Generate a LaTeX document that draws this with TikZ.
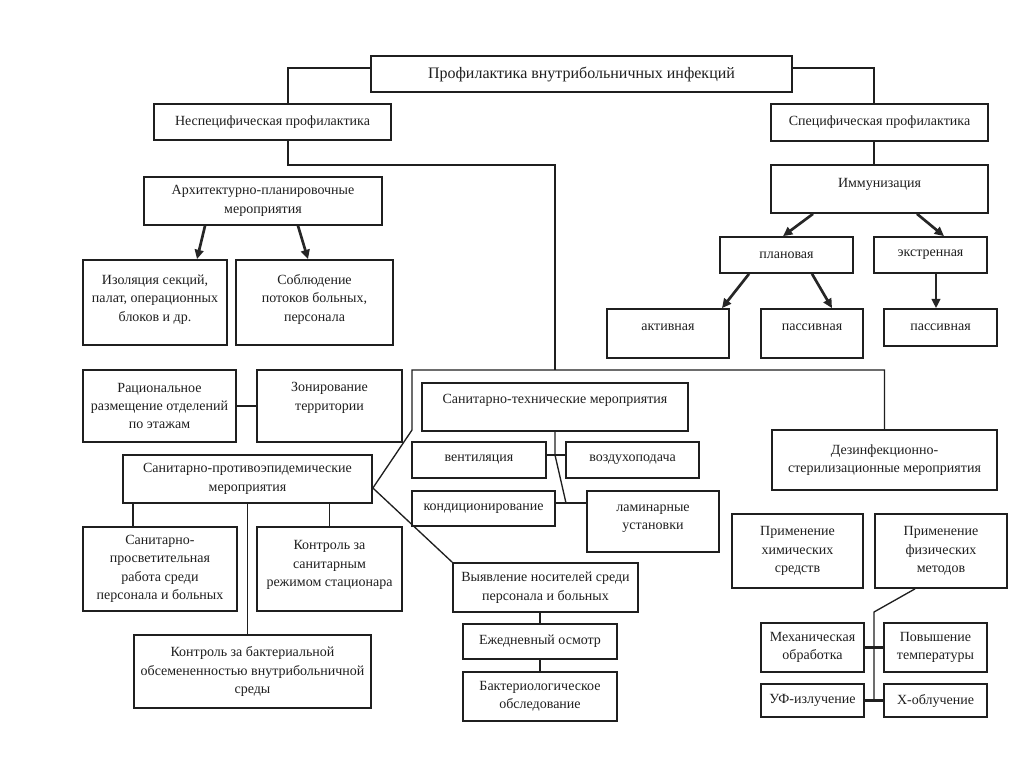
\documentclass[tikz,border=0pt]{standalone}
\usepackage{fontspec}
\setmainfont{Liberation Serif}
\usetikzlibrary{arrows.meta,calc}
\definecolor{ink}{gray}{0.12}

\begin{document}
\begin{tikzpicture}[
  x=0.75pt, y=-0.75pt,
  every node/.style={font=\fontsize{10.5pt}{13.8pt}\selectfont, text=ink},
  box/.style={draw=ink, line width=1.3pt, fill=white, align=center, inner sep=1pt},
  link/.style={draw=ink, line width=1pt},
  pair/.style={draw=ink, line width=1.8pt},
  arr/.style={draw=black!85, line width=2pt, -{Triangle[length=7pt,width=6.5pt]}}
]
  \useasboundingbox[fill=white] (0,0) rectangle (1024,768);

  % top level
  \node[box, minimum width=315.75pt, minimum height=27pt,
        font=\fontsize{12pt}{15pt}\selectfont] (title) at (581.5,74)
       {Профилактика внутрибольничных инфекций};
  \node[box, minimum width=177.75pt, minimum height=27pt] (nespec) at (272.5,122) {Неспецифическая профилактика};
  \node[box, minimum width=162.75pt, minimum height=27.75pt] (spec) at (879.5,122.5) {Специфическая профилактика};

  % immunisation
  \node[box, minimum width=162.75pt, minimum height=36pt] (imm) at (879.5,189) {Иммунизация\\[-4pt]};
  \node[box, minimum width=99.75pt, minimum height=27pt] (plan) at (786.5,255) {плановая};
  \node[box, minimum width=84.75pt, minimum height=27pt] (ekstr) at (930.5,255) {экстренная};
  \node[box, minimum width=91.5pt, minimum height=36.75pt] (akt) at (668,333.5) {активная\\[-4.75pt]};
  \node[box, minimum width=76.5pt, minimum height=36.75pt] (pas1) at (812,333.5) {пассивная\\[-4.75pt]};
  \node[box, minimum width=84.75pt, minimum height=27.75pt] (pas2) at (940.5,327.5) {пассивная};

  % architecture
  \node[box, minimum width=178.5pt, minimum height=36pt] (arch) at (263,201) {Архитектурно-планировочные\\мероприятия};
  \node[box, minimum width=108pt, minimum height=63.75pt] (izol) at (155,302.5) {Изоляция секций,\\палат, операционных\\блоков и  др.\\[-7pt]};
  \node[box, minimum width=117.75pt, minimum height=63.75pt] (sobl) at (314.5,302.5) {Соблюдение\\потоков больных,\\персонала\\[-7pt]};
  \node[box, minimum width=114.75pt, minimum height=54pt] (rac) at (159.5,406) {Рациональное\\размещение отделений\\по этажам};
  \node[box, minimum width=108.75pt, minimum height=54pt] (zon) at (329.5,406) {Зонирование\\территории\\[0.5pt]};

  % sanitary-technical
  \node[box, minimum width=199.5pt, minimum height=36pt] (santech) at (555,407) {Санитарно-технические мероприятия\\[-1pt]};
  \node[box, minimum width=100.5pt, minimum height=27pt] (vent) at (479,460) {вентиляция};
  \node[box, minimum width=99.75pt, minimum height=27pt] (vozd) at (632.5,460) {воздухоподача};
  \node[box, minimum width=107.25pt, minimum height=26.25pt] (kond) at (483.5,508.5) {кондиционирование};
  \node[box, minimum width=99pt, minimum height=45.75pt] (lam) at (653,521.5) {ламинарные\\установки\\[-7pt]};

  % disinfection
  \node[box, minimum width=168.75pt, minimum height=45pt] (dezinf) at (884.5,460) {Дезинфекционно-\\стерилизационные мероприятия};
  \node[box, minimum width=98.25pt, minimum height=55.5pt] (chem) at (797.5,551) {Применение\\химических\\средств};
  \node[box, minimum width=99pt, minimum height=55.5pt] (phys) at (941,551) {Применение\\физических\\методов};
  \node[box, minimum width=77.25pt, minimum height=36.75pt] (mech) at (812.5,647.5) {Механическая\\обработка};
  \node[box, minimum width=77.25pt, minimum height=36.75pt] (pov) at (935.5,647.5) {Повышение\\температуры};
  \node[box, minimum width=77.25pt, minimum height=24.75pt] (uf) at (812.5,700.5) {УФ-излучение};
  \node[box, minimum width=77.25pt, minimum height=24.75pt] (xobl) at (935.5,700.5) {Х-облучение};

  % anti-epidemic
  \node[box, minimum width=186.75pt, minimum height=36pt] (sanep) at (247.5,479) {Санитарно-противоэпидемические\\мероприятия};
  \node[box, minimum width=115.5pt, minimum height=63pt] (prosv) at (160,569) {Санитарно-\\просветительная\\работа среди\\персонала и  больных};
  \node[box, minimum width=108.75pt, minimum height=63pt] (kontr) at (329.5,569) {Контроль за\\санитарным\\режимом стационара\\[-5.5pt]};
  \node[box, minimum width=177.75pt, minimum height=54.75pt] (kbak) at (252.5,671.5) {Контроль за бактериальной\\обсемененностью внутрибольничной\\среды};
  \node[box, minimum width=138.75pt, minimum height=36.75pt] (vyjav) at (545.5,587.5) {Выявление носителей среди\\персонала и  больных};
  \node[box, minimum width=115.5pt, minimum height=26.25pt] (ezhed) at (540,641.5) {Ежедневный осмотр};
  \node[box, minimum width=115.5pt, minimum height=36.75pt] (bakt) at (540,696.5) {Бактериологическое\\обследование};

  % junctions
  \coordinate (hub) at (555,370);
  \coordinate (bend) at (412,430);
  \coordinate (tj) at (555,455);
  \coordinate (kj) at (566,503);
  \coordinate (pj) at (874,612);

  \draw[link] ($(title.west)+(0,-6)$) -| ($(nespec.north)+(15.5,0)$);
  \draw[link] ($(title.east)+(0,-6)$) -| ($(spec.north)+(-5.5,0)$);
  \draw[link] ($(spec.south)+(-5.5,0)$) -- ($(imm.north)+(-5.5,0)$);
  \draw[link] ($(nespec.south)+(15.5,0)$) |- ($(hub)+(0,-205)$) -- (hub);
  \draw[link] ($(sanep.east)+(0,9)$) -- (bend) |- (hub) -| (dezinf.north);
  \draw[link] ($(sanep.east)+(0,9)$) -- (vyjav.north west);
  \draw[link] (santech.south) -- (tj) -- (kj);
  \draw[pair] (vent.east |- tj) -- (vozd.west |- tj);
  \draw[link] (kond.east |- kj) -- (lam.west |- kj);
  \draw[link] (sanep.south -| kbak.west) -- (prosv.north -| kbak.west);
  \draw[link] (sanep.south) -- (sanep.south |- kbak.north);
  \draw[link] (sanep.south -| kontr.north) -- (kontr.north);
  \draw[link] (vyjav.south -| ezhed.north) -- (ezhed.north);
  \draw[link] (ezhed.south) -- (bakt.north);
  \draw[link] ($(phys.south)+(-26,0)$) -- (pj) -- (pj |- uf.east);
  \foreach \a/\b in {rac/zon, mech/pov, uf/xobl}
    \draw[pair] (\a) -- (\b);

  \foreach \s/\so/\t/\to in {arch/-58/izol/42, arch/35/sobl/-6.5,
      imm/-66.5/plan/-3.5, imm/37.5/ekstr/13.5, plan/-37.5/akt/54,
      plan/25.5/pas1/20, ekstr/5.5/pas2/-4.5}
    \draw[arr] ($(\s.south)+(\so,0)$) -- ($(\t.north)+(\to,0)$);
\end{tikzpicture}
\end{document}
